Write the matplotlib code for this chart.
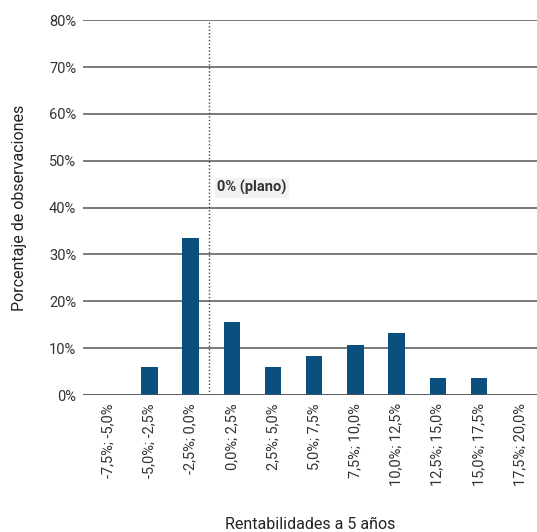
import matplotlib
matplotlib.use("Agg")
import matplotlib.pyplot as plt
from matplotlib import font_manager

fams = {f.name for f in font_manager.fontManager.ttflist}
fam = "Liberation Sans Narrow" if "Liberation Sans Narrow" in fams else "Roboto"
plt.rcParams['font.family'] = [fam, 'DejaVu Sans']

categories = ["-7,5%; -5,0%", "-5,0%; -2,5%", "-2,5%; 0,0%", "0,0%; 2,5%", "2,5%; 5,0%",
              "5,0%; 7,5%", "7,5%; 10,0%", "10,0%; 12,5%", "12,5%; 15,0%", "15,0%; 17,5%",
              "17,5%; 20,0%"]
values = [0.0, 6.0, 33.5, 15.5, 6.0, 8.3, 10.7, 13.2, 3.6, 3.6, 0.0]
yticks = [0, 10, 20, 30, 40, 50, 60, 70, 80]
ytick_labels = ["0%", "10%", "20%", "30%", "40%", "50%", "60%", "70%", "80%"]
zero_line_pos = 2.5
annotation = "0% (plano)"

fig = plt.figure(figsize=(5.37, 5.32), dpi=100)
ax = fig.add_axes([0.155, 0.2575, 0.845, 0.7045])
x = list(range(len(categories)))
ax.bar(x, values, width=0.4, color="#0b4f7e", zorder=3)
ax.set_xlim(-0.61, 10.41)
ax.set_ylim(0, 80)
ax.set_yticks(yticks)
ax.set_yticklabels(ytick_labels, fontsize=10.5, color="#333333")
ax.set_xticks(x)
ax.set_xticklabels(categories, rotation=90, fontsize=10.5, color="#333333")
ax.tick_params(length=0, pad=6)
ax.tick_params(axis='y', pad=5)
for s in ax.spines.values():
    s.set_visible(False)
ax.grid(axis='y', color="#7a7a7a", linewidth=1.4, zorder=0)
ax.axhline(0, color="#555555", linewidth=1.8, zorder=4)
ax.axvline(zero_line_pos - 0.05, color="#444444", linestyle=(0, (1, 1.5)), linewidth=1.0, zorder=2)
ax.text(zero_line_pos + 0.15, 44.2, annotation, fontsize=10.5, fontweight='bold', color="#333333",
        va='center', ha='left', zorder=5,
        bbox=dict(boxstyle='square,pad=0.15', facecolor='#f2f2f2', edgecolor='none'))
ax.set_ylabel("Porcentaje de observaciones", fontsize=11.5, color="#222222", labelpad=16)
ax.set_xlabel("Rentabilidades a 5 años", fontsize=11.5, color="#222222", labelpad=22)
fig.savefig("out.png", dpi=100, facecolor="white")
